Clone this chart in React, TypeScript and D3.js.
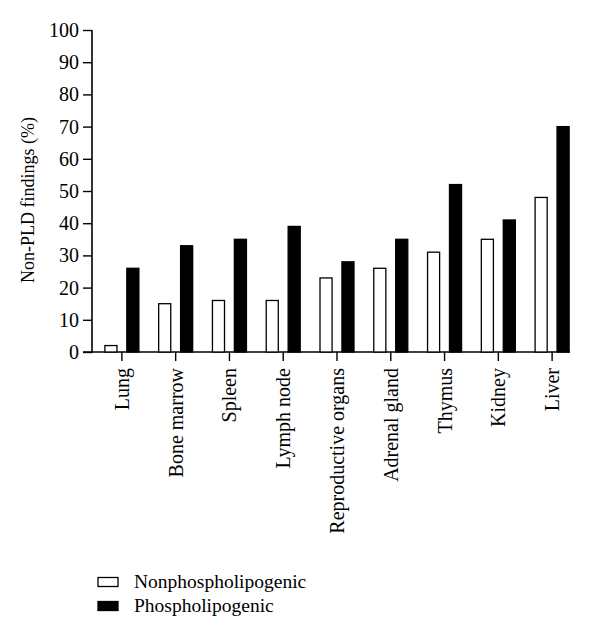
import React, { useEffect, useRef } from 'react'
import * as d3 from 'd3'

const organs = ["Lung", "Bone marrow", "Spleen", "Lymph node", "Reproductive organs", "Adrenal gland", "Thymus", "Kidney", "Liver"]
const nonPhospholipogenic = [2, 15, 16, 16, 23, 26, 31, 35, 48]
const phospholipogenic = [26, 33, 35, 39, 28, 35, 52, 41, 70]
const yTicks = [0, 10, 20, 30, 40, 50, 60, 70, 80, 90, 100]
const seriesNames = ["Nonphospholipogenic", "Phospholipogenic"]

const font = "'Liberation Serif', 'DejaVu Serif', serif"
const fs = "20px"

export default function App() {
    const ref = useRef<SVGSVGElement>(null)

    useEffect(() => {
        const svg = d3.select(ref.current)
        svg.selectAll("*").remove()

        const axisX = 92, axisEnd = 570

        const y = d3.scaleLinear().domain([0, 100]).range([352, 30])

        const x0 = d3.scaleBand()
            .domain(organs)
            .range([95, 579])

        const x1 = d3.scaleBand()
            .domain(seriesNames)
            .range([-17, 17])
            .paddingInner(0.45)

        const fills = ["#fff", "#000"]

        // y axis
        const yAxis = svg.append("g")
            .attr("transform", `translate(${axisX},0)`)
            .call(d3.axisLeft(y).tickValues(yTicks).tickSize(9).tickPadding(4))
        yAxis.select(".domain").attr("stroke-width", 1.6).attr("d", `M-9,${y(0)}H0V${y(100)}`)
        yAxis.selectAll(".tick line").attr("stroke-width", 1.4)
        yAxis.selectAll(".tick text")
            .style("font-family", font).style("font-size", fs).attr("fill", "#000")

        // x axis
        svg.append("line")
            .attr("x1", axisX).attr("x2", axisEnd)
            .attr("y1", y(0)).attr("y2", y(0))
            .attr("stroke", "#000").attr("stroke-width", 1.6)

        const groups = svg.append("g")
            .selectAll("g")
            .data(organs)
            .join("g")
            .attr("transform", d => `translate(${x0(d)! + x0.bandwidth() / 2},0)`)

        groups.append("line")
            .attr("y1", y(0)).attr("y2", y(0) + 9)
            .attr("stroke", "#000").attr("stroke-width", 1.4)

        groups.append("text")
            .attr("transform", `translate(7,${y(0) + 16}) rotate(-90)`)
            .attr("text-anchor", "end")
            .style("font-family", font).style("font-size", fs)
            .text(d => d)

        groups.selectAll("rect")
            .data((d, i) => [
                { key: seriesNames[0], value: nonPhospholipogenic[i], fill: fills[0] },
                { key: seriesNames[1], value: phospholipogenic[i], fill: fills[1] }
            ])
            .join("rect")
            .attr("x", d => x1(d.key)!)
            .attr("y", d => y(d.value))
            .attr("width", x1.bandwidth())
            .attr("height", d => y(0) - y(d.value))
            .attr("fill", d => d.fill)
            .attr("stroke", "#000")
            .attr("stroke-width", 1.3)

        // y axis title
        svg.append("text")
            .attr("transform", `translate(34,${y(50) + 9}) rotate(-90)`)
            .attr("text-anchor", "middle")
            .style("font-family", font).style("font-size", "18px")
            .text("Non-PLD findings (%)")

        // legend
        seriesNames.forEach((name, i) => {
            svg.append("rect")
                .attr("x", 98).attr("y", 577.5 + i * 24)
                .attr("width", 20).attr("height", 9)
                .attr("fill", fills[i]).attr("stroke", "#000").attr("stroke-width", 1.3)
            svg.append("text")
                .attr("x", 134).attr("y", 588 + i * 24)
                .style("font-family", font).style("font-size", "19.5px")
                .text(name)
        })
    }, [])

    return (
        <svg ref={ref} width={600} height={639} style={{ position: "absolute", left: 0, top: 0, background: "#fff" }} />
    )
}
